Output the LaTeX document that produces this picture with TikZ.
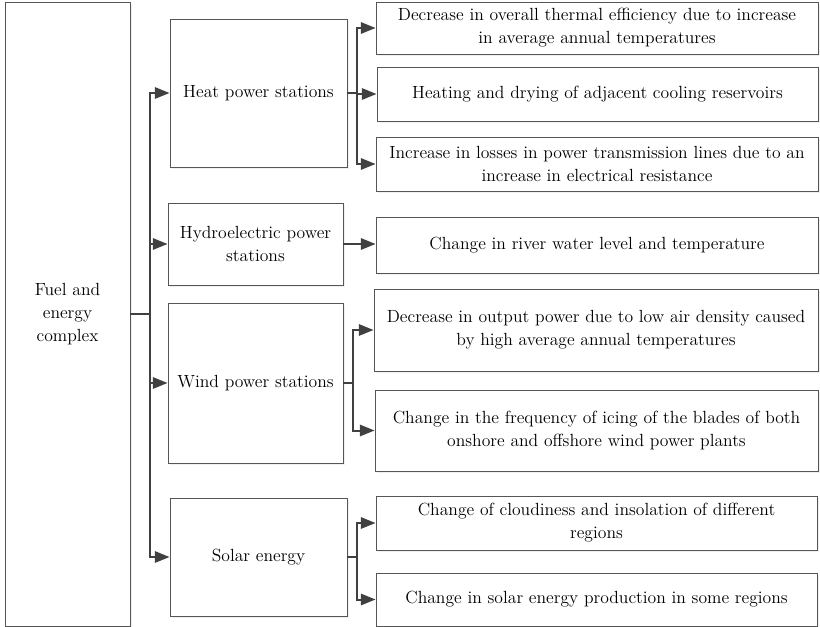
\documentclass[tikz,border=0pt]{standalone}
\usepackage{xcolor}
\usepackage{tikz}
\usetikzlibrary{positioning,arrows.meta,shadows}

\definecolor{boxline}{HTML}{555555}
\definecolor{arrline}{HTML}{404040}

\tikzset{
    box/.style 2 args={draw=boxline, line width=0.7pt, fill=white, align=center, inner sep=0pt,
        minimum width=#1, minimum height=#2, font=\fontsize{13.2}{17.3}\selectfont,
        drop shadow={shadow xshift=1.2pt, shadow yshift=-1.2pt, opacity=0.12}},
    arr/.style={draw=arrline, line width=1.5pt, -{Triangle[length=11pt,width=8.5pt]}},
    link/.style={draw=arrline, line width=1.5pt}
}

\begin{document}
\begin{tikzpicture}[x=0.75pt, y=-0.75pt]
    \useasboundingbox (0,0) rectangle (820,627);

    \node[box={93.75pt}{468pt}] (fuel) at (67.5,314) {Fuel and\\energy\\complex};

    \node[box={132.75pt}{111pt}] (heat) at (258.5,93) {Heat power stations};
    \node[box={131.25pt}{61.5pt}] (hydro) at (255.5,244) {Hydroelectric power\\stations};
    \node[box={131.25pt}{120pt}] (wind) at (255.5,383) {Wind power stations};
    \node[box={132.75pt}{88.5pt}] (solar) at (258.5,557) {Solar energy};

    \node[box={331.5pt}{39pt}] (thermal) at (597,28) {Decrease in overall thermal efficiency due to increase\\in average annual temperatures};
    \node[box={330.75pt}{40.5pt}] (cooling) at (597.5,94) {Heating and drying of adjacent cooling reservoirs};
    \node[box={331.5pt}{40.5pt}] (losses) at (597,164) {Increase in losses in power transmission lines due to an\\increase in electrical resistance};
    \node[box={331.5pt}{42pt}] (river) at (597,245) {Change in river water level and temperature};
    \node[box={333pt}{61.5pt}] (density) at (596,330) {Decrease in output power due to low air density caused\\by high average annual temperatures};
    \node[box={332.25pt}{60.75pt}] (icing) at (596.5,430.5) {Change in the frequency of icing of the blades of both\\onshore and offshore wind power plants};
    \node[box={330.75pt}{40.5pt}] (cloud) at (596.5,523) {Change of cloudiness and insolation of different\\regions};
    \node[box={330.75pt}{39.75pt}] (yield) at (596.5,599.5) {Change in solar energy production in some regions};

    % trunk from the complex
    \draw[link] (fuel.east) -- ++(20,0) coordinate (trunk);
    \foreach \n in {heat,hydro,wind,solar}
        \draw[arr] (trunk) |- (\n.west);

    \foreach \n in {thermal,cooling,losses}
        \draw[arr] (heat.east) -- ++(10,0) |- (\n.west);
    \draw[arr] (hydro.east) -- (hydro.east -| river.west);
    \foreach \n in {density,icing}
        \draw[arr] (wind.east) -- ++(10,0) |- (\n.west);
    \foreach \n in {cloud,yield}
        \draw[arr] (solar.east) -- ++(10,0) |- (\n.west);
\end{tikzpicture}
\end{document}
